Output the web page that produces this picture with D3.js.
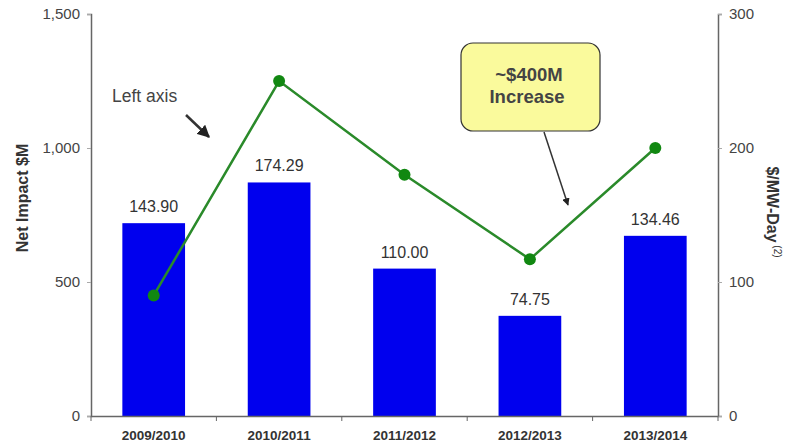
<!DOCTYPE html>
<html><head><meta charset="utf-8">
<script src="https://cdn.jsdelivr.net/npm/d3@7"></script>
<style>body{margin:0;background:#fff}svg{display:block;font-family:"Liberation Sans",Arial,sans-serif}</style>
</head><body><svg id="c" width="793" height="447"></svg>
<script>
const categories = ["2009/2010","2010/2011","2011/2012","2012/2013","2013/2014"];
const mwDay = [143.90, 174.29, 110.00, 74.75, 134.46];
const netImpact = [450, 1250, 900, 585, 1000];
const leftTicks = [0, 500, 1000, 1500];
const rightTicks = [0, 100, 200, 300];

const svg = d3.select("#c");
const m = {l:91, r:718, t:14, b:416};
const x = d3.scaleBand().domain(categories).range([m.l, m.r]).paddingInner(0.5).paddingOuter(0.25);
const yL = d3.scaleLinear().domain([0,1500]).range([m.b, m.t]);
const yR = d3.scaleLinear().domain([0,300]).range([m.b, m.t]);

// bars
svg.selectAll("rect.bar").data(mwDay).join("rect").attr("class","bar")
  .attr("x",(d,i)=>x(categories[i])).attr("width",x.bandwidth())
  .attr("y",d=>yR(d)).attr("height",d=>m.b-yR(d)).attr("fill","#0000ee");
svg.selectAll("text.bl").data(mwDay).join("text").attr("class","bl")
  .attr("x",(d,i)=>x(categories[i])+x.bandwidth()/2).attr("y",d=>yR(d)-11)
  .attr("text-anchor","middle").attr("font-size",16).attr("fill","#333")
  .text(d=>d.toFixed(2));

// axes
const gL = svg.append("g").attr("transform",`translate(${m.l},0)`)
  .call(d3.axisLeft(yL).tickValues(leftTicks).tickFormat(d3.format(",")).tickSize(4).tickPadding(7));
const gR = svg.append("g").attr("transform",`translate(${m.r},0)`)
  .call(d3.axisRight(yR).tickValues(rightTicks).tickSize(4).tickPadding(7));
const gB = svg.append("g").attr("transform",`translate(0,${m.b})`)
  .call(d3.axisBottom(x).tickSize(0).tickPadding(14));
[gL,gR,gB].forEach(g=>{
  g.select(".domain").attr("stroke","#666").attr("stroke-width",1.5);
  g.selectAll(".tick line").attr("stroke","#aaa");
});
gL.selectAll(".tick text").attr("font-size",15).attr("fill","#444").attr("font-family","Liberation Sans, Arial");
gR.selectAll(".tick text").attr("font-size",15).attr("fill","#444").attr("font-family","Liberation Sans, Arial");
gB.selectAll(".tick text").attr("font-size",13.5).attr("font-weight","bold").attr("fill","#333")
  .attr("font-family","Liberation Sans, Arial");
// bottom boundary ticks
const bounds = d3.range(categories.length+1).map(i=>m.l + i*(m.r-m.l)/categories.length);
svg.selectAll("line.bt").data(bounds).join("line").attr("class","bt")
  .attr("x1",d=>d).attr("x2",d=>d).attr("y1",m.b).attr("y2",m.b+5).attr("stroke","#666");

// line
const line = d3.line().x((d,i)=>x(categories[i])+x.bandwidth()/2).y(d=>yL(d));
svg.append("path").datum(netImpact).attr("d",line).attr("fill","none")
  .attr("stroke","#2a8a2a").attr("stroke-width",2.5);
svg.selectAll("circle.pt").data(netImpact).join("circle").attr("class","pt")
  .attr("cx",(d,i)=>x(categories[i])+x.bandwidth()/2).attr("cy",d=>yL(d)).attr("r",6)
  .attr("fill","#118811");

// titles
svg.append("text").attr("transform","translate(28,198) rotate(-90)").attr("text-anchor","middle")
  .attr("font-size",16).attr("font-weight","bold").attr("fill","#333").text("Net Impact $M");
const rt = svg.append("text").attr("transform","translate(767,212) rotate(90)").attr("text-anchor","middle")
  .attr("font-size",16).attr("font-weight","bold").attr("fill","#333");
rt.append("tspan").text("$/MW-Day");
rt.append("tspan").attr("font-size",10).attr("font-weight","normal").attr("dy",-7).text(" (2)");

// annotations
const defs = svg.append("defs");
defs.append("marker").attr("id","ah").attr("viewBox","0 0 10 10").attr("refX",9).attr("refY",5)
  .attr("markerWidth",5).attr("markerHeight",5).attr("orient","auto")
  .append("path").attr("d","M0,0L10,5L0,10z").attr("fill","#222");
svg.append("text").attr("x",112).attr("y",102).attr("font-size",17.5).attr("fill","#444").text("Left axis");
svg.append("line").attr("x1",186).attr("y1",115).attr("x2",209).attr("y2",137)
  .attr("stroke","#333").attr("stroke-width",2.5).attr("marker-end","url(#ah)");

svg.append("rect").attr("x",461).attr("y",43).attr("width",139).attr("height",88).attr("rx",12)
  .attr("fill","#fafa9c").attr("stroke","#333").attr("stroke-width",1.2);
svg.append("text").attr("x",529).attr("y",81).attr("text-anchor","middle").attr("font-size",18.5)
  .attr("font-weight","bold").attr("fill","#444").text("~$400M");
svg.append("text").attr("x",527).attr("y",103).attr("text-anchor","middle").attr("font-size",18.5)
  .attr("font-weight","bold").attr("fill","#444").text("Increase");
svg.append("line").attr("x1",544).attr("y1",132).attr("x2",568).attr("y2",205)
  .attr("stroke","#333").attr("stroke-width",1.5).attr("marker-end","url(#ah)");
</script></body></html>
